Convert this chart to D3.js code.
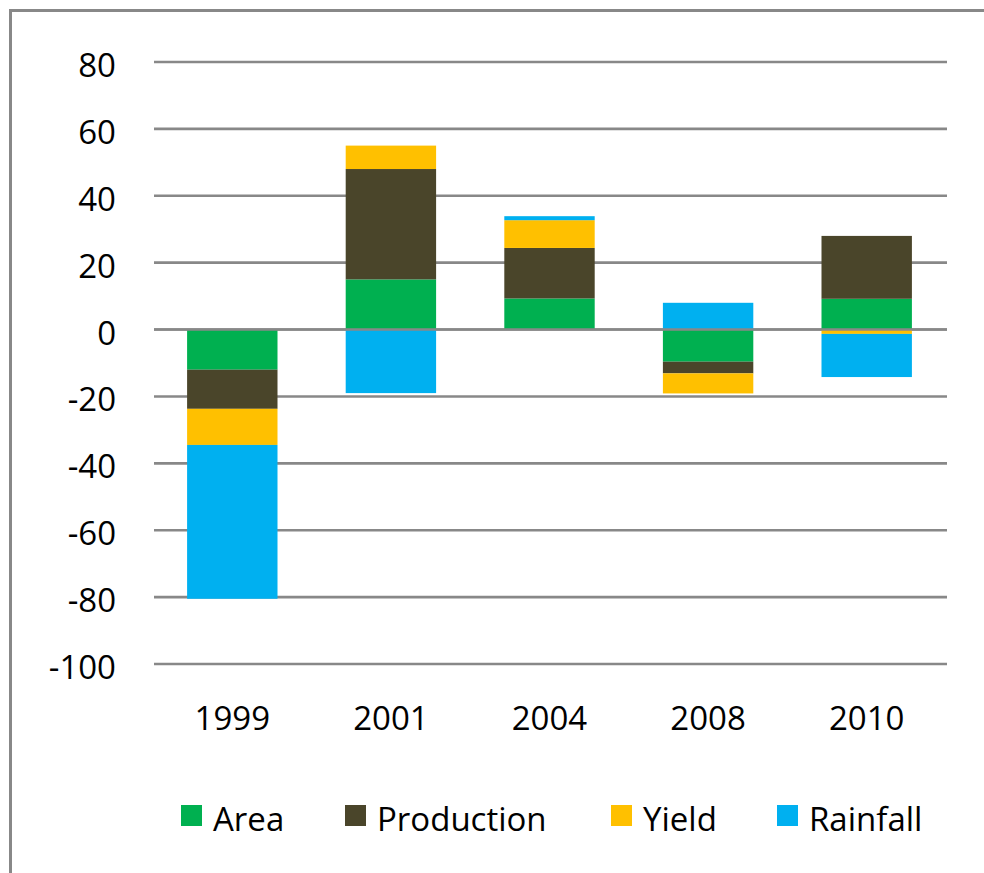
<!DOCTYPE html>
<html>
<head>
<meta charset="utf-8">
<script src="https://cdn.jsdelivr.net/npm/d3@7"></script>
<style>
  body { margin: 0; background: #fff; }
  svg { display: block; }
</style>
</head>
<body>
<svg id="mainFrame"></svg>
<script>
// values
const years = ["1999", "2001", "2004", "2008", "2010"];
const area = [-12, 15, 9.3, -9.6, 9.2];
const production = [-11.7, 33, 15.1, -3.5, 18.8];
const yieldVals = [-10.8, 7, 8.3, -6, -1.3];
const rainfall = [-46, -19, 1.2, 8, -12.9];
const seriesNames = ["Area", "Production", "Yield", "Rainfall"];
const colors = ["#00b050", "#4a452a", "#ffc000", "#00b0f0"];
const yTicks = [80, 60, 40, 20, 0, -20, -40, -60, -80, -100];

const width = 984, height = 873;
const font = "'Open Sans', 'Noto Sans', sans-serif";
const fontSize = 33;

const rows = years.map((y, i) => ({
    year: y,
    Area: area[i],
    Production: production[i],
    Yield: yieldVals[i],
    Rainfall: rainfall[i]
}));

const stacked = d3.stack()
    .keys(seriesNames)
    .offset(d3.stackOffsetDiverging)(rows);

const x = d3.scaleBand()
    .domain(years)
    .range([153, 946])
    .paddingInner(0.43)
    .paddingOuter(0.215);

const y = d3.scaleLinear()
    .domain([-100, 80])
    .range([664, 62]);

const color = d3.scaleOrdinal().domain(seriesNames).range(colors);

const svg = d3.select("#mainFrame")
    .attr("width", width)
    .attr("height", height)
    .attr("font-family", font);

// chart frame (cropped on the right and bottom)
svg.append("path")
    .attr("d", "M10.5,984 V10.5 H984")
    .attr("fill", "none")
    .attr("stroke", "#888")
    .attr("stroke-width", 3);

// gridlines
svg.append("g")
    .selectAll("line")
    .data(yTicks)
    .join("line")
    .attr("x1", 154)
    .attr("x2", 947)
    .attr("y1", d => y(d))
    .attr("y2", d => y(d))
    .attr("stroke", "#888")
    .attr("stroke-width", 2.6);

// y labels
svg.append("g")
    .attr("text-anchor", "end")
    .attr("font-size", fontSize)
    .selectAll("text")
    .data(yTicks)
    .join("text")
    .attr("x", 116)
    .attr("y", d => y(d) + 15)
    .attr("fill", "#000")
    .text(d => d);

// bars
svg.append("g")
    .selectAll("g")
    .data(stacked)
    .join("g")
    .attr("fill", d => color(d.key))
    .selectAll("rect")
    .data(d => d)
    .join("rect")
    .attr("x", d => x(d.data.year))
    .attr("width", x.bandwidth())
    .attr("y", d => y(Math.max(d[0], d[1])))
    .attr("height", d => Math.abs(y(d[0]) - y(d[1])));

// zero axis line on top
svg.append("line")
    .attr("x1", 154)
    .attr("x2", 947)
    .attr("y1", y(0))
    .attr("y2", y(0))
    .attr("stroke", "#888")
    .attr("stroke-width", 2.6);

// x labels
svg.append("g")
    .attr("text-anchor", "middle")
    .attr("font-size", fontSize)
    .selectAll("text")
    .data(years)
    .join("text")
    .attr("x", d => x(d) + x.bandwidth() / 2)
    .attr("y", 730)
    .text(d => d);

// legend
const legendX = [181, 345, 611, 777];
const leg = svg.append("g")
    .selectAll("g")
    .data(seriesNames)
    .join("g")
    .attr("transform", (d, i) => `translate(${legendX[i]},0)`);

leg.append("rect")
    .attr("y", 805)
    .attr("width", 21)
    .attr("height", 21)
    .attr("fill", d => color(d));

leg.append("text")
    .attr("x", 32)
    .attr("y", 831)
    .attr("font-size", fontSize)
    .text(d => d);
</script>
</body>
</html>
